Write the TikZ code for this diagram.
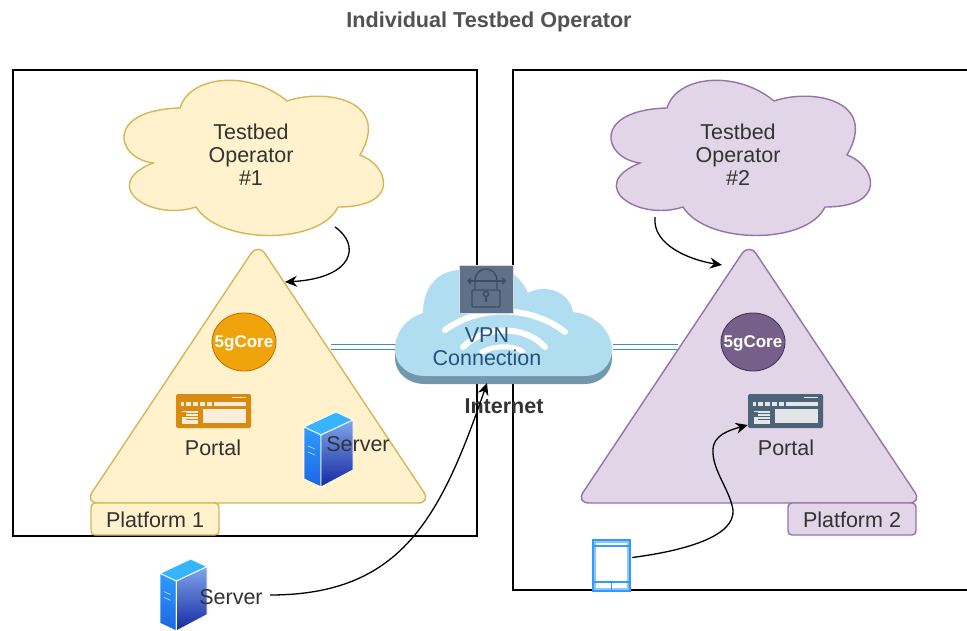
\documentclass[tikz,border=0pt]{standalone}
\usepackage{fontspec}
\setmainfont{Liberation Sans}
\usetikzlibrary{arrows.meta,shapes.geometric}
\definecolor{txt}{HTML}{333333}
\definecolor{yfill}{HTML}{FFF2CC}
\definecolor{ystroke}{HTML}{D6B656}
\definecolor{pfill}{HTML}{E1D5E7}
\definecolor{pstroke}{HTML}{9673A6}
\definecolor{orangefill}{HTML}{F0A30A}
\definecolor{orangeline}{HTML}{BD7000}
\definecolor{purplefill}{HTML}{76608A}
\definecolor{purpleline}{HTML}{432D57}
\definecolor{portalo}{HTML}{D98A10}
\definecolor{portalg}{HTML}{4D6377}
\definecolor{vpnfill}{HTML}{B1DDF0}
\definecolor{vpnshadow}{HTML}{7397AD}
\definecolor{vpntext}{HTML}{23527F}
\definecolor{lockfill}{HTML}{5F7188}
\definecolor{lockline}{HTML}{3C4C63}
\definecolor{linkblue}{HTML}{3E8FB8}
\definecolor{phoneblue}{HTML}{3399FF}
\definecolor{phoneglow}{HTML}{8CC6FF}
\definecolor{svA}{HTML}{2E9BFF}
\definecolor{svB}{HTML}{1E66E0}
\definecolor{svC}{HTML}{7FA6EC}
\definecolor{svD}{HTML}{1428A0}
\definecolor{svE}{HTML}{36B4FF}
\tikzset{
  frame/.style={draw=black,line width=1.1pt},
  tricorner/.style={line width=1.4pt,rounded corners=13pt},
  lbl/.style={font=\fontsize{21.5}{23}\selectfont,text=txt,align=center,inner sep=0pt},
  plat/.style={rounded corners=4pt,minimum width=128pt,minimum height=32pt,line width=1.4pt,inner sep=0pt},
  core/.style={ellipse,line width=.8pt,minimum width=64pt,minimum height=58pt,inner sep=0pt},
  corelbl/.style={inner sep=0pt,font=\fontsize{17}{18}\bfseries\selectfont,text=white},
  ghost/.style={inner sep=0pt,minimum width=#1},
  curve/.style={draw=black,line width=1.3pt,-{Stealth[length=12pt,width=11pt]}},
  dbl/.style={draw=linkblue,line width=1.6pt,double=white,double distance=3.2pt},
  lockstroke/.style={draw=lockline,line width=1.4pt}
}
\newcommand{\cloudat}[3]{\begin{scope}[shift={(#1,0)}]\draw[fill=#2,draw=#3,line width=1.4pt]
 (180,108) .. controls (190,75) and (250,70) .. (287,101)
 .. controls (325,88) and (392,100) .. (360,155)
 .. controls (388,165) and (402,207) .. (338,207)
 .. controls (320,245) and (220,245) .. (196,207)
 .. controls (150,222) and (98,185) .. (153,163)
 .. controls (115,158) and (105,110) .. (180,108) -- cycle;\end{scope}}
\newcommand{\portalicon}[3]{%
\begin{scope}[shift={(#1,#2)}]
 \fill[#3,rounded corners=1.5pt] (0,0) rectangle (75,34);
 \fill[white,opacity=.85] (5,7.5) rectangle (70,11.5);
 \foreach \i in {8,15,22,29,36} \fill[#3] (\i,7.5) rectangle +(1.6,4);
 \fill[white,opacity=.85] (56,2.5) rectangle (70,4);
 \fill[white,opacity=.85] (27,15) rectangle (69.5,29);
 \fill[white,opacity=.85] (6,17) rectangle (22,29.5);
 \foreach \i in {19.5,22.5,25.5} \draw[#3,line width=.7pt] (10,\i) -- (22,\i);
 \fill[#3] (6,18) rectangle (10,23);
\end{scope}}
\newcommand{\servericon}[3]{%
\begin{scope}[shift={(#1,#2)},scale=#3]
 \path[draw=white,line width=.9pt,fill=svE] (0,15) -- (32,0) -- (49,8) -- (17,23) -- cycle;
 \path[draw=white,line width=.9pt,top color=svA,bottom color=svB] (0,15) -- (17,23) -- (17,75) -- (0,67) -- cycle;
 \path[draw=white,line width=.9pt,top color=svC,bottom color=svD] (17,23) -- (49,8) -- (49,58) -- (17,75) -- cycle;
 \draw[white,opacity=.7,line width=.7pt] (4,34) -- (11,37) (4,40) -- (11,43);
\end{scope}}
\begin{document}
\begin{tikzpicture}[x=1pt,y=-1pt]
\clip (0,0) rectangle (967,631);
\fill[white] (0,0) rectangle (967,631);
\node[font=\fontsize{21.6}{24}\bfseries\selectfont,text=txt!85!white,inner sep=0pt] (title) at (489,21.5) {Individual Testbed Operator};
% frames
\draw[frame] (13,70) rectangle (477,536);
\draw[frame] (975,70) -- (513,70) -- (513,590) -- (975,590);
% clouds
\cloudat{0}{yfill}{ystroke}
\cloudat{487}{pfill}{pstroke}
\node[lbl] (op1) at (251,155) {Testbed\\Operator\\\#1};
\node[lbl] (op2) at (738,155) {Testbed\\Operator\\\#2};
% triangles
\draw[fill=yfill,draw=ystroke,tricorner] (258,503) -- (85,503) -- (258,243) -- (431,503) -- cycle;
\draw[fill=pfill,draw=pstroke,tricorner] (749,503) -- (576,503) -- (749,243) -- (922,503) -- cycle;
% platform labels
\node[plat,fill=yfill,draw=ystroke] (plat1) at (155,519) {};
\node[plat,fill=pfill,draw=pstroke] (plat2) at (852,519) {};
\node[lbl] (plat1t) at (155,520) {Platform 1};
\node[lbl] (plat2t) at (852,520) {Platform 2};
% cores
\node[core,fill=orangefill,draw=orangeline] (core1) at (244,342) {};
\node[core,fill=purplefill,draw=purpleline] (core2) at (753,342) {};
\node[corelbl] (core1t) at (244,343) {5gCore};
\node[corelbl] (core2t) at (753,343) {5gCore};
% portals
\portalicon{176}{394}{portalo}
\portalicon{748}{394}{portalg}
\node[ghost=75pt,minimum height=34pt] (portalA) at (213.5,411) {};
\node[ghost=75pt,minimum height=34pt] (portalB) at (785.5,411) {};
\node[lbl] (portallabelA) at (213,448) {Portal};
\node[lbl] (portallabelB) at (786,448) {Portal};
% server in triangle
\servericon{304}{412}{1}
\node[lbl] (serverA) at (358,444) {Server};
% VPN cloud
\coordinate (tri1e) at (331,347);
\coordinate (tri2w) at (678,347);
\coordinate (vpnw) at (396,347);
\coordinate (vpne) at (613,347);
\draw[dbl] (tri1e) -- (vpnw);
\draw[dbl] (vpne) -- (tri2w);
\def\vpnshape{(395,350) .. controls (395,330) and (408,318) .. (423,313) .. controls (423,290) and (435,272) .. (458,270) .. controls (480,262) and (515,262) .. (528,293) .. controls (545,283) and (570,292) .. (573,312) .. controls (597,315) and (612,332) .. (612,350) .. controls (612,365) and (600,376) .. (585,376) -- (425,376) .. controls (408,376) and (395,365) .. (395,350) -- cycle}
\begin{scope}[yshift=-8pt]\fill[vpnshadow] \vpnshape;\end{scope}
\fill[vpnfill] \vpnshape;
\draw[white,line width=6pt,line cap=round] (445,330) .. controls (480,305) and (530,305) .. (565,332);
\draw[white,line width=6pt,line cap=round] (463,347) .. controls (485,325) and (525,325) .. (545,347);
\draw[white,line width=5pt,line cap=round] (482,352) .. controls (495,345) and (515,345) .. (523,352);
\node[lbl,text=vpntext] (vpn) at (487,347) {VPN\\Connection};
% lock
\node[draw=white!75!lockfill,fill=lockfill,line width=.8pt,minimum width=54pt,minimum height=48pt,inner sep=0pt] (lock) at (486,289) {};
\draw[lockstroke,{Straight Barb[length=3pt,width=6pt]}-{Straight Barb[length=3pt,width=6pt]}] (467,281) -- (506,281);
\draw[lockstroke] (475,289) -- (475,281) .. controls (475,265) and (497,265) .. (497,281) -- (497,289);
\draw[lockstroke,rounded corners=1pt] (472,290) rectangle (500,307);
\draw[lockstroke] (486,294) circle (2.6pt);
\draw[lockstroke] (486,296.6) -- (486,302);
\node[lbl,font=\fontsize{21.5}{23}\bfseries\selectfont] (internet) at (504,406) {Internet};
% server below
\servericon{160}{559}{.96}
\node[lbl] (serverB) at (231,597) {Server};
% phone
\node[draw=phoneglow,fill=white,line width=3.6pt,minimum width=34pt,minimum height=48pt,inner sep=0pt] (phone) at (611.5,565.5) {};
\draw[phoneblue,line width=1.8pt] (phone.south west) rectangle (phone.north east);
\draw[phoneblue,line width=1.8pt] (594,546) -- (629,546) (594,582) -- (629,582) (611.5,582) -- (611.5,590);
% connectors
\coordinate (c1out) at (335,227);
\coordinate (t1in) at (285,282);
\coordinate (c2out) at (655,217);
\coordinate (t2in) at (722,265);
\coordinate (vpnb) at (487,383);
\draw[curve] (c1out) .. controls (361,245) and (354,278) .. (t1in);
\draw[curve] (c2out) .. controls (652,245) and (690,260) .. (t2in);
\draw[curve] (serverB.east) ++(7,-2) .. controls (400,595) and (440,520) .. (vpnb);
\draw[curve] (phone.east) ++(2,-8) .. controls (690,550) and (735,535) .. (733,510) .. controls (730,490) and (712,470) .. (713,450) .. controls (713,435) and (730,430) .. (portalB.west |- 0,425);
\end{tikzpicture}
\end{document}
